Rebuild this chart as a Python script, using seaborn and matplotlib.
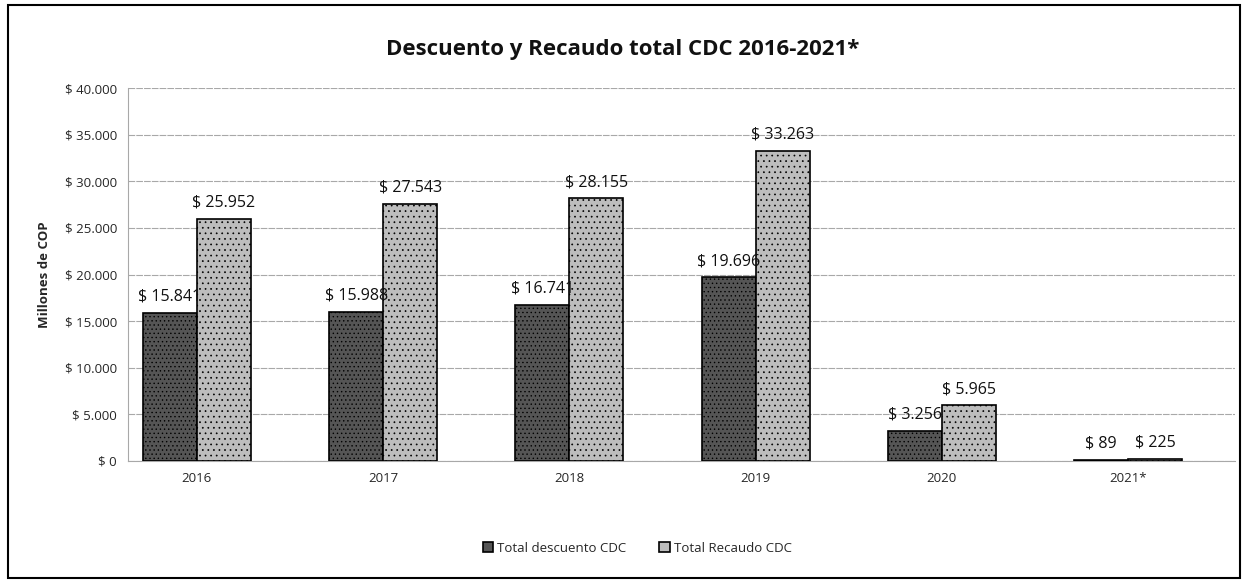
import pandas as pd
import seaborn as sns
import matplotlib.pyplot as plt
from matplotlib.patches import Rectangle

# Data (millones de COP)
years = ['2016', '2017', '2018', '2019', '2020', '2021*']
descuento = [15841, 15988, 16741, 19696, 3256, 89]
recaudo = [25952, 27543, 28155, 33263, 5965, 225]
series = ['Total descuento CDC', 'Total Recaudo CDC']

df = pd.DataFrame({
    'Año': years * 2,
    'Valor': descuento + recaudo,
    'Serie': [series[0]] * len(years) + [series[1]] * len(years),
})

sns.set_theme(style='white')
plt.rcParams['font.family'] = ['Open Sans', 'DejaVu Sans']
plt.rcParams['hatch.linewidth'] = 0.5

fig = plt.figure(figsize=(12.45, 5.83), dpi=100)
ax = fig.add_axes([128 / 1245, 1 - 461 / 583, (1235 - 128) / 1245, (461 - 88) / 583])

palette = {series[0]: '#555555', series[1]: '#bdbdbd'}
sns.barplot(data=df, x='Año', y='Valor', hue='Serie', palette=palette,
            width=0.58, edgecolor='black', linewidth=1.2, ax=ax, zorder=3)

# stippled look like the scanned original
for cont, h in zip(ax.containers, ['....', '...']):
    for bar in cont:
        bar.set_hatch(h)

ax.set_ylim(0, 40000)
ax.set_xlim(-0.37, 5.575)
ax.set_yticks(range(0, 40001, 5000))
ax.set_yticklabels(['$ ' + f'{v:,}'.replace(',', '.') for v in range(0, 40001, 5000)],
                   fontsize=9.5)
ax.tick_params(axis='x', labelsize=9.5, length=0, pad=8)
ax.tick_params(axis='y', length=0, pad=8)
ax.yaxis.grid(True, color='#a8a8a8', linewidth=0.8, linestyle=(0, (6, 1)))
ax.set_axisbelow(True)
ax.set_xlabel('')
ax.set_ylabel('Millones de COP', fontsize=9.5, fontweight='bold', labelpad=10)

for s in ['top', 'right']:
    ax.spines[s].set_visible(False)
ax.spines['left'].set_color('#a8a8a8')
ax.spines['left'].set_linewidth(0.8)
ax.spines['bottom'].set_color('#a8a8a8')
ax.spines['bottom'].set_linewidth(0.8)

for cont in ax.containers:
    labels = ['$ ' + f'{int(v):,}'.replace(',', '.') for v in cont.datavalues]
    ax.bar_label(cont, labels=labels, padding=6, fontsize=11.5, color='#111111')

ax.legend(loc='upper center', bbox_to_anchor=(0.46, -0.185), ncol=2, frameon=False,
          fontsize=9.5, handlelength=0.8, handleheight=0.8, columnspacing=2.5,
          handletextpad=0.3)

fig.text(0.5, 1 - 50 / 583, 'Descuento y Recaudo total CDC 2016-2021*',
         ha='center', va='center', fontsize=16, fontweight='bold', color='#111111')

fig.patches.append(Rectangle((8 / 1245, 5 / 583), 1232 / 1245, 573 / 583,
                             transform=fig.transFigure, fill=False,
                             edgecolor='black', linewidth=1.5))

fig.savefig('out.png', dpi=100)
